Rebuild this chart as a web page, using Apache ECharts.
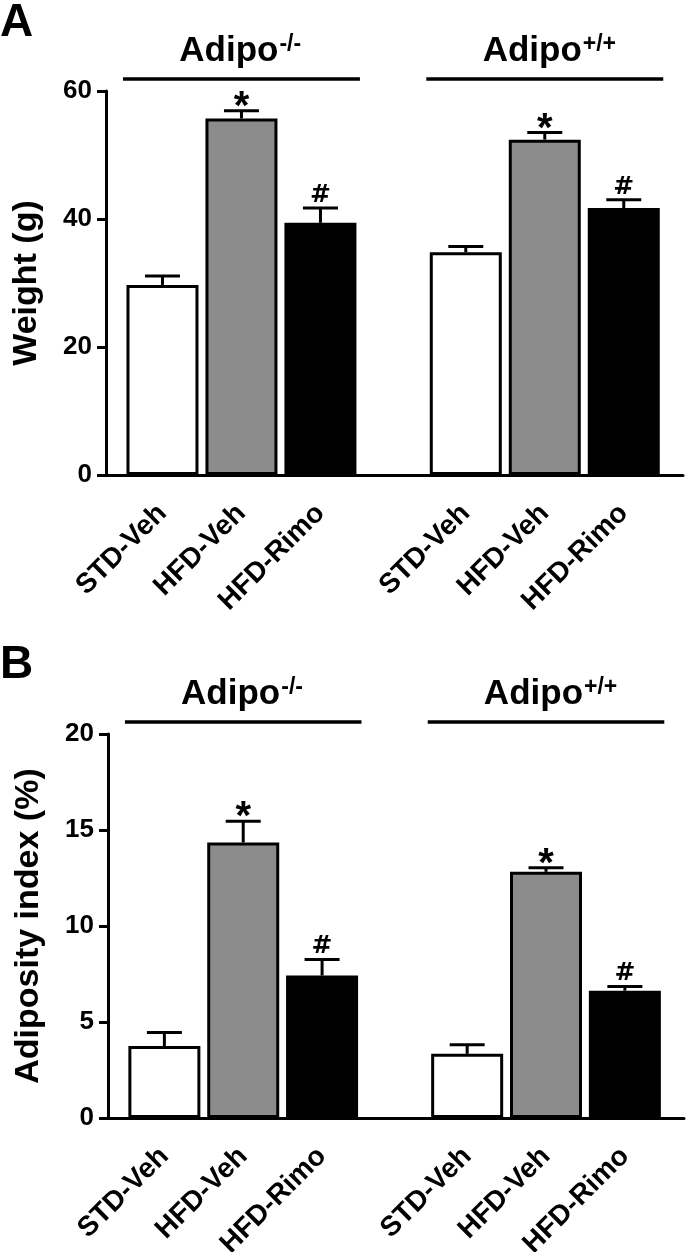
<!DOCTYPE html>
<html>
<head>
<meta charset="utf-8">
<script src="https://cdn.jsdelivr.net/npm/echarts@6/dist/echarts.min.js"></script>
<style>
  html, body { margin: 0; padding: 0; background: #fff; }
  #chart { width: 687px; height: 1252px; }
</style>
</head>
<body>
<div id="chart"></div>
<script>
  // groups and categories
  var groupNames = ['Adipo', 'Adipo'];
  var groupSup = ['-/-', '+/+'];
  var categories = ['STD-Veh', 'HFD-Veh', 'HFD-Rimo'];
  var marks = ['', '*', '#'];

  // panel A: body weight (g), mean and mean+SEM
  var weightMean = [29.7, 55.7, 39.4, 34.8, 52.4, 41.7];
  var weightTop = [31.1, 56.9, 41.7, 35.7, 53.5, 43.0];
  var weightTicks = [0, 20, 40, 60];

  // panel B: adiposity index (%)
  var adipMean = [3.75, 14.35, 7.42, 3.34, 12.82, 6.63];
  var adipTop = [4.45, 15.45, 8.26, 3.82, 13.03, 6.85];
  var adipTicks = [0, 5, 10, 15, 20];

  var FONT = 'Liberation Sans';
  var fills = ['#ffffff', '#8c8c8c', '#000000'];
  var GROUP_STEP = 3.84;
  var X_MIN = -0.715, X_MAX = 6.59;

  function xPos(k) {
    return Math.floor(k / 3) * GROUP_STEP + (k % 3);
  }

  var myChart = echarts.init(document.getElementById('chart'));

  function txt(size, extra) {
    var s = { fontSize: size, fontWeight: 'bold', fontFamily: FONT, fill: '#000' };
    for (var k in extra) s[k] = extra[k];
    return s;
  }

  function barData(vals) {
    return vals.map(function (v, k) {
      return { value: [xPos(k), v], itemStyle: { color: fills[k % 3] } };
    });
  }

  function errData(mean, top) {
    return mean.map(function (v, k) { return [xPos(k), v, top[k]]; });
  }

  function renderErr(params, api) {
    var x = api.value(0);
    var p0 = api.coord([x, api.value(1)]);
    var p1 = api.coord([x, api.value(2)]);
    var mk = marks[params.dataIndex % 3];
    var kids = [
      { type: 'line', shape: { x1: p0[0], y1: p0[1], x2: p1[0], y2: p1[1] }, style: { stroke: '#000', lineWidth: 3 } },
      { type: 'line', shape: { x1: p1[0] - 17.5, y1: p1[1], x2: p1[0] + 17.5, y2: p1[1] }, style: { stroke: '#000', lineWidth: 3 } }
    ];
    if (mk === '*') {
      kids.push({ type: 'text', x: p1[0], y: p1[1] + 17, style: txt(40, { text: mk, align: 'center', verticalAlign: 'bottom' }) });
    } else if (mk) {
      kids.push({ type: 'text', x: p1[0], y: p1[1], style: txt(25, { text: mk, fontFamily: 'DejaVu Sans', align: 'center', verticalAlign: 'bottom' }) });
    }
    return { type: 'group', children: kids };
  }

  function renderLabel(params, api) {
    var p = api.coord([api.value(0), 0]);
    return {
      type: 'text', x: p[0] - 10, y: p[1] + 24, rotation: Math.PI / 4,
      style: txt(28, { text: categories[params.dataIndex % 3], align: 'right', verticalAlign: 'top' })
    };
  }

  function headerRender(ymax) {
    return function (params, api) {
      var a = api.coord([api.value(0), ymax]);
      var b = api.coord([api.value(1), ymax]);
      var y = a[1] - 12;
      var cx = (a[0] + b[0]) / 2;
      return {
        type: 'group',
        children: [
          { type: 'line', shape: { x1: a[0], y1: y, x2: b[0], y2: y }, style: { stroke: '#000', lineWidth: 3.5 } },
          { type: 'text', x: cx + 37, y: y - 10, style: txt(35, { text: groupNames[params.dataIndex], align: 'right', verticalAlign: 'bottom' }) },
          { type: 'text', x: cx + 38, y: y - 46, style: txt(23, { text: groupSup[params.dataIndex], align: 'left', verticalAlign: 'top' }) }
        ]
      };
    };
  }

  var headerData = groupNames.map(function (n, g) {
    return [g * GROUP_STEP - 0.5, g * GROUP_STEP + 2.5];
  });

  function xAxisCfg(i) {
    return {
      gridIndex: i, type: 'value', min: X_MIN, max: X_MAX,
      axisLine: { show: true, onZero: false, lineStyle: { color: '#000', width: 3 } },
      axisTick: { show: false }, axisLabel: { show: false }, splitLine: { show: false }
    };
  }

  function yAxisCfg(i, ticks, name) {
    return {
      gridIndex: i, type: 'value',
      min: ticks[0], max: ticks[ticks.length - 1], interval: ticks[1] - ticks[0],
      name: name, nameLocation: 'middle', nameGap: 62,
      nameTextStyle: { fontSize: 34, fontWeight: 'bold', fontFamily: FONT, color: '#000' },
      axisLine: { show: true, onZero: false, lineStyle: { color: '#000', width: 3 } },
      axisTick: { show: true, length: 9, lineStyle: { color: '#000', width: 3 } },
      axisLabel: { fontSize: 26, fontWeight: 'bold', fontFamily: FONT, color: '#000', margin: 14 },
      splitLine: { show: false }
    };
  }

  function panelSeries(i, mean, top, ticks) {
    return [
      {
        type: 'bar', xAxisIndex: i, yAxisIndex: i, data: barData(mean),
        barWidth: 72, itemStyle: { borderColor: '#000', borderWidth: 3 }, silent: true
      },
      { type: 'custom', xAxisIndex: i, yAxisIndex: i, data: errData(mean, top), renderItem: renderErr, silent: true },
      { type: 'custom', xAxisIndex: i, yAxisIndex: i, data: mean.map(function (v, k) { return [xPos(k), 0]; }), renderItem: renderLabel, silent: true },
      { type: 'custom', xAxisIndex: i, yAxisIndex: i, data: headerData, renderItem: headerRender(ticks[ticks.length - 1]), silent: true }
    ];
  }

  myChart.setOption({
    animation: false,
    title: [
      { text: 'A', left: 0, top: 0, padding: 0, textStyle: { fontSize: 46, fontWeight: 'bold', fontFamily: FONT, color: '#000' } },
      { text: 'B', left: 0, top: 642, padding: 0, textStyle: { fontSize: 46, fontWeight: 'bold', fontFamily: FONT, color: '#000' } }
    ],
    grid: [
      { left: 106, top: 91, width: 577, height: 384, outerBoundsMode: 'none' },
      { left: 108, top: 734, width: 576, height: 384, outerBoundsMode: 'none' }
    ],
    xAxis: [xAxisCfg(0), xAxisCfg(1)],
    yAxis: [yAxisCfg(0, weightTicks, 'Weight (g)'), yAxisCfg(1, adipTicks, 'Adiposity index (%)')],
    series: panelSeries(0, weightMean, weightTop, weightTicks)
      .concat(panelSeries(1, adipMean, adipTop, adipTicks))
  });
  window.onresize = myChart.resize;
</script>
</body>
</html>
